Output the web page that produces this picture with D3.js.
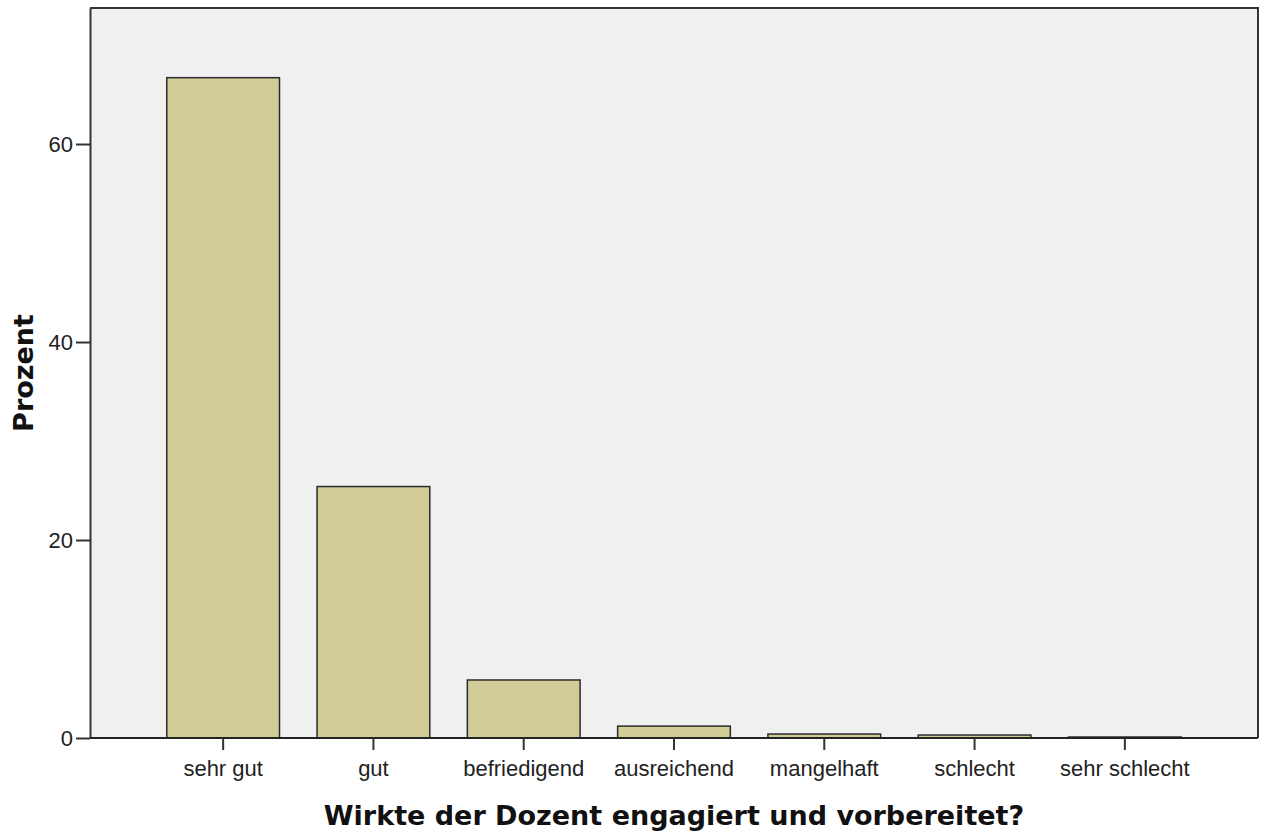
<!DOCTYPE html>
<html>
<head>
<meta charset="utf-8">
<script src="https://cdn.jsdelivr.net/npm/d3@7"></script>
<style>
  html, body { margin: 0; padding: 0; background: #ffffff; }
  svg { display: block; }
</style>
</head>
<body>
<svg id="chart" width="1263" height="834"></svg>
<script>
const categories = ["sehr gut", "gut", "befriedigend", "ausreichend", "mangelhaft", "schlecht", "sehr schlecht"];
const percentValues = [66.7, 25.4, 5.86, 1.2, 0.4, 0.3, 0.1];
const yTickValues = [0, 20, 40, 60];
const xAxisTitle = "Wirkte der Dozent engagiert und vorbereitet?";
const yAxisTitle = "Prozent";

const svg = d3.select("#chart");
const plot = { left: 90, right: 1258, top: 8, bottom: 738 };

const x = d3.scaleBand()
  .domain(categories)
  .range([plot.left + 58, plot.right - 58])
  .paddingInner(0.25)
  .paddingOuter(0.125);

const y = d3.scaleLinear()
  .domain([0, 73.74])
  .range([plot.bottom, plot.top]);

// background
svg.append("rect")
  .attr("x", plot.left).attr("y", plot.top)
  .attr("width", plot.right - plot.left).attr("height", plot.bottom - plot.top)
  .attr("fill", "#f0f0f0");

// bars
svg.append("g").selectAll("rect")
  .data(categories)
  .join("rect")
  .attr("x", d => x(d))
  .attr("width", x.bandwidth())
  .attr("y", (d, i) => y(percentValues[i]))
  .attr("height", (d, i) => y(0) - y(percentValues[i]))
  .attr("fill", "#d2cd96")
  .attr("stroke", "#2b2b2b")
  .attr("stroke-width", 1.5);

// frame top/right
svg.append("path")
  .attr("d", `M${plot.left},${plot.top}H${plot.right}V${plot.bottom}`)
  .attr("fill", "none")
  .attr("stroke", "#333")
  .attr("stroke-width", 2);

// y axis
const yAxis = svg.append("g")
  .attr("transform", `translate(${plot.left},0)`)
  .call(d3.axisLeft(y).tickValues(yTickValues).tickSize(14).tickPadding(3).tickSizeOuter(0));
yAxis.select(".domain").attr("stroke", "#333").attr("stroke-width", 2);
yAxis.selectAll(".tick line").attr("stroke", "#333").attr("stroke-width", 2);
yAxis.selectAll(".tick text")
  .attr("font-family", "Liberation Sans, Arial, sans-serif")
  .attr("font-size", 22)
  .attr("fill", "#222");

// x axis
const xAxis = svg.append("g")
  .attr("transform", `translate(0,${plot.bottom})`)
  .call(d3.axisBottom(x).tickSize(12).tickPadding(10).tickSizeOuter(0));
xAxis.select(".domain")
  .attr("d", `M${plot.left},0H${plot.right}`)
  .attr("stroke", "#222").attr("stroke-width", 2);
xAxis.selectAll(".tick line").attr("stroke", "#333").attr("stroke-width", 2);
xAxis.selectAll(".tick text")
  .attr("font-family", "Liberation Sans, Arial, sans-serif")
  .attr("font-size", 22)
  .attr("fill", "#222");

// axis titles
svg.append("text")
  .attr("x", (plot.left + plot.right) / 2)
  .attr("y", 825)
  .attr("text-anchor", "middle")
  .attr("font-family", "DejaVu Sans, sans-serif")
  .attr("font-weight", "bold")
  .attr("font-size", 27)
  .attr("fill", "#111")
  .text(xAxisTitle);

svg.append("text")
  .attr("transform", `translate(33,${(plot.top + plot.bottom) / 2}) rotate(-90)`)
  .attr("text-anchor", "middle")
  .attr("font-family", "DejaVu Sans, sans-serif")
  .attr("font-weight", "bold")
  .attr("font-size", 27)
  .attr("fill", "#111")
  .text(yAxisTitle);
</script>
</body>
</html>
